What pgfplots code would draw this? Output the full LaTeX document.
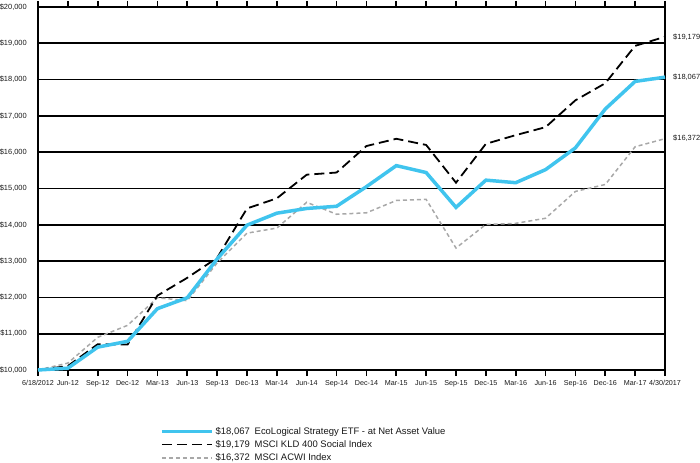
\documentclass[border=0pt]{standalone}
\usepackage{pgfplots}
\pgfplotsset{compat=1.18}
\usepackage{pgfplotstable}
\usepackage{fontspec}
\setmainfont{Liberation Sans}
\definecolor{etfblue}{RGB}{64,196,238}
\definecolor{acwigray}{RGB}{168,168,168}
\pgfplotstableread{
x etf kld acwi
0 10000 10000 10000
1 10050 10110 10190
2 10630 10710 10900
3 10790 10700 11230
4 11690 12050 11990
5 11990 12540 11910
6 13060 13090 12950
7 13990 14450 13770
8 14320 14730 13910
9 14450 15380 14620
10 14510 15440 14290
11 15050 16170 14330
12 15630 16370 14670
13 15440 16200 14700
14 14480 15160 13360
15 15230 16230 14010
16 15160 16470 14040
17 15520 16690 14180
18 16120 17430 14920
19 17190 17900 15110
20 17950 18930 16150
21 18067 19179 16372
}\data
\begin{document}
\begin{tikzpicture}
\useasboundingbox (-38bp,-93bp) rectangle (662bp,370bp);
\begin{axis}[
  at={(0,0)}, anchor=south west,
  scale only axis, width=627bp, height=363bp,
  xmin=0, xmax=21, ymin=10000, ymax=20000,
  xtick={0,...,21},
  xticklabels={6/18/2012,Jun-12,Sep-12,Dec-12,Mar-13,Jun-13,Sep-13,Dec-13,Mar-14,Jun-14,Sep-14,Dec-14,Mar-15,Jun-15,Sep-15,Dec-15,Mar-16,Jun-16,Sep-16,Dec-16,Mar-17,4/30/2017},
  ytick={10000,11000,...,20000},
  yticklabels={{\$10,000},{\$11,000},{\$12,000},{\$13,000},{\$14,000},{\$15,000},{\$16,000},{\$17,000},{\$18,000},{\$19,000},{\$20,000}},
  tick align=outside, major tick length=6bp,
  x tick style={black, line width=1.6bp},
  y tick style={draw=none},
  xticklabel style={font=\fontsize{7.2}{8}\selectfont, text=black!90, yshift=-1bp},
  yticklabel style={font=\fontsize{7.5}{8}\selectfont, text=black!90, inner sep=0pt, xshift=-5bp},
  ymajorgrids, major grid style={black, line width=1.7bp},
  axis line style={black, line width=2.2bp},
  clip=false,
  reverse legend,
  legend cell align=left,
  legend style={at={(rel axis cs:0.1946,-0.151)}, anchor=north west, draw=none, fill=none, inner sep=0pt,
    font=\fontsize{9.5}{10}\selectfont, text=black!90, row sep=0.8bp,
    /tikz/every even column/.style={column sep=0bp}},
  legend image code/.code={\draw[#1] (0bp,0bp) -- (50bp,0bp);},
]
\addplot[acwigray, line width=1.5bp, dash pattern=on 4bp off 3bp] table[x=x,y=acwi]{\data};
\addlegendentry{\makebox[39bp][l]{\$16,372}MSCI ACWI Index}
\addplot[black, line width=1.8bp, dash pattern=on 10bp off 5bp] table[x=x,y=kld]{\data};
\addlegendentry{\makebox[39bp][l]{\$19,179}MSCI KLD 400 Social Index}
\addplot[etfblue, line width=3.5bp] table[x=x,y=etf]{\data};
\addlegendentry{\makebox[39bp][l]{\$18,067}EcoLogical Strategy ETF - at Net Asset Value}
\node[anchor=west, font=\fontsize{7.5}{8}\selectfont, text=black!90, inner sep=0pt] at (axis cs:21,19179) [xshift=8bp] {\$19,179};
\node[anchor=west, font=\fontsize{7.5}{8}\selectfont, text=black!90, inner sep=0pt] at (axis cs:21,18067) [xshift=8bp] {\$18,067};
\node[anchor=west, font=\fontsize{7.5}{8}\selectfont, text=black!90, inner sep=0pt] at (axis cs:21,16372) [xshift=8bp] {\$16,372};
\end{axis}
\end{tikzpicture}
\end{document}
